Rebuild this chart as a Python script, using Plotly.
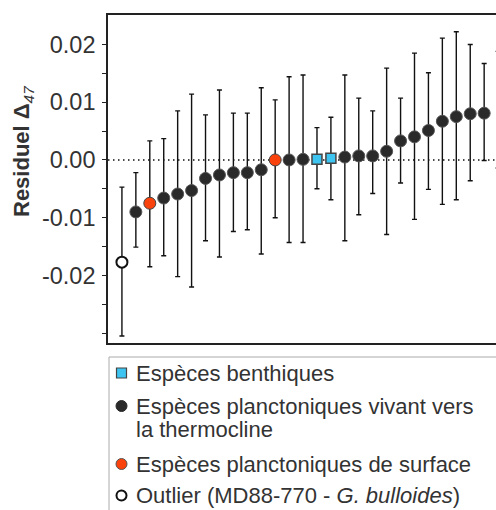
import plotly.graph_objects as go

# ---------------- data ----------------
outlier_x = [1]
outlier_y = [-0.0177]
outlier_hi = [-0.0047]
outlier_lo = [-0.0305]

thermo_x = [2, 4, 5, 6, 7, 8, 9, 10, 11, 13, 14, 17, 18, 19, 20, 21, 22, 23, 24, 25, 26, 27]
thermo_y = [-0.0090, -0.0066, -0.0059, -0.0053, -0.0032, -0.0026, -0.0022, -0.0022, -0.0017,
            0.0000, 0.0001, 0.0005, 0.0007, 0.0007, 0.0015, 0.0033, 0.0040, 0.0051, 0.0067,
            0.0075, 0.0080, 0.0081]
thermo_hi = [-0.0022, 0.0037, 0.0085, 0.0114, 0.0078, 0.0121, 0.0081, 0.0081, 0.0125,
             0.0144, 0.0147, 0.0147, 0.0107, 0.0085, 0.0159, 0.0107, 0.0185, 0.0151, 0.0211,
             0.0222, 0.0200, 0.0167]
thermo_lo = [-0.0151, -0.0166, -0.0202, -0.0220, -0.0140, -0.0168, -0.0124, -0.0121, -0.0163,
             -0.0143, -0.0143, -0.0140, -0.0095, -0.0058, -0.0129, -0.0040, -0.0103, -0.0051,
             -0.0077, -0.0069, -0.0036, -0.0001]

surface_x = [3, 12, 28]
surface_y = [-0.0075, 0.0000, 0.0088]
surface_hi = [0.0033, 0.0104, 0.0188]
surface_lo = [-0.0185, -0.0100, -0.0014]

benthic_x = [15, 16]
benthic_y = [0.0001, 0.0003]
benthic_hi = [0.0056, 0.0074]
benthic_lo = [-0.0050, -0.0069]

y_tickvals = [-0.02, -0.01, 0.0, 0.01, 0.02]
y_ticktext = ["-0.02", "-0.01", "0.00", "0.01", "0.02"]
y_minorvals = [-0.03, -0.025, -0.015, -0.005, 0.005, 0.015]

legend_labels = ["Espèces benthiques",
                 "Espèces planctoniques vivant vers",
                 "la thermocline",
                 "Espèces planctoniques de surface",
                 "Outlier (MD88-770 - <i>G. bulloides</i>)"]

# ---------------- figure ----------------
W, H = 496, 510
ML, MR, MT, MB = 108, 0, 15, 167
PW, PH = W - ML - MR, H - MT - MB

FONT = "Arial, 'Liberation Sans', sans-serif"
TXT = "#333333"


def err(y, hi, lo):
    return dict(type="data", symmetric=False,
                array=[h - v for h, v in zip(hi, y)],
                arrayminus=[v - l for l, v in zip(lo, y)],
                color="#111111", thickness=1.4, width=2.5)


fig = go.Figure()

fig.add_trace(go.Scatter(
    x=thermo_x, y=thermo_y, mode="markers", name="thermocline",
    error_y=err(thermo_y, thermo_hi, thermo_lo),
    marker=dict(symbol="circle", size=12, color="#2a2a2a", line=dict(color="#555555", width=1)),
    cliponaxis=False))
fig.add_trace(go.Scatter(
    x=surface_x, y=surface_y, mode="markers", name="surface",
    error_y=err(surface_y, surface_hi, surface_lo),
    marker=dict(symbol="circle", size=12, color="#fa430c", line=dict(color="#444444", width=1)),
    cliponaxis=False))
fig.add_trace(go.Scatter(
    x=benthic_x, y=benthic_y, mode="markers", name="benthic",
    error_y=err(benthic_y, benthic_hi, benthic_lo),
    marker=dict(symbol="square", size=10, color="#3ec4f0", line=dict(color="#444444", width=1.5)),
    cliponaxis=False))
fig.add_trace(go.Scatter(
    x=outlier_x, y=outlier_y, mode="markers", name="outlier",
    error_y=err(outlier_y, outlier_hi, outlier_lo),
    marker=dict(symbol="circle", size=11, color="white", line=dict(color="#111111", width=2)),
    cliponaxis=False))

# zero dotted line
fig.add_shape(type="line", xref="paper", yref="y", x0=0, x1=1, y0=0, y1=0,
              line=dict(color="#111111", width=1.5, dash="1.5px,3.5px"), layer="below")


def px_x(p):
    return (p - ML) / PW


def px_y(p):
    return (H - MB - p) / PH


# legend box
fig.add_shape(type="rect", xref="paper", yref="paper",
              x0=px_x(109), x1=px_x(700), y0=px_y(357), y1=px_y(700),
              line=dict(color="#aaaaaa", width=1), fillcolor="rgba(0,0,0,0)")

# legend symbols
sx = 121.5
fig.add_shape(type="rect", xref="paper", yref="paper",
              x0=px_x(sx - 5), x1=px_x(sx + 5), y0=px_y(368), y1=px_y(378),
              line=dict(color="#444444", width=1.2), fillcolor="#3ec4f0")
for cy, fill, lc, lw, r in [(406, "#2a2a2a", "#2a2a2a", 1, 5.5), (464, "#fa430c", "#555555", 1, 5.5),
                            (495.5, "white", "#111111", 2, 5)]:
    fig.add_shape(type="circle", xref="paper", yref="paper",
                  x0=px_x(sx - r), x1=px_x(sx + r), y0=px_y(cy - r), y1=px_y(cy + r),
                  line=dict(color=lc, width=lw), fillcolor=fill)

for txt, cy in zip(legend_labels, [373, 406, 429, 464, 495]):
    fig.add_annotation(text=txt, xref="paper", yref="paper", x=px_x(134), y=px_y(cy),
                       xanchor="left", yanchor="middle", showarrow=False,
                       font=dict(family=FONT, size=22, color=TXT))

# y-axis title
fig.add_annotation(text="<b>Residuel Δ</b><sub><i>47</i></sub>", xref="paper", yref="paper",
                   x=px_x(23), y=px_y(151), textangle=-90, showarrow=False,
                   xanchor="center", yanchor="middle",
                   font=dict(family=FONT, size=22, color=TXT))

fig.update_layout(
    width=W, height=H, margin=dict(l=ML, r=MR, t=MT, b=MB, pad=0),
    paper_bgcolor="white", plot_bgcolor="white", showlegend=False,
    xaxis=dict(range=[0, 27.85], showgrid=False, zeroline=False, showticklabels=False,
               ticks="", showline=True, linecolor="#222222", linewidth=1.6, mirror=True),
    yaxis=dict(range=[-0.0317, 0.0251], showgrid=False, zeroline=False,
               tickmode="array", tickvals=y_tickvals, ticktext=y_ticktext,
               ticks="outside", ticklen=4,
               tickwidth=1.3, tickcolor="#222222", showline=True, linecolor="#222222",
               linewidth=1.6, mirror=False, ticklabelstandoff=2,
               tickfont=dict(family=FONT, size=23.5, color=TXT),
               minor=dict(tickmode="array", tickvals=y_minorvals, ticks="outside",
                          ticklen=4, tickwidth=1.3, tickcolor="#222222", showgrid=False)),
)

fig.write_html("out.html")
